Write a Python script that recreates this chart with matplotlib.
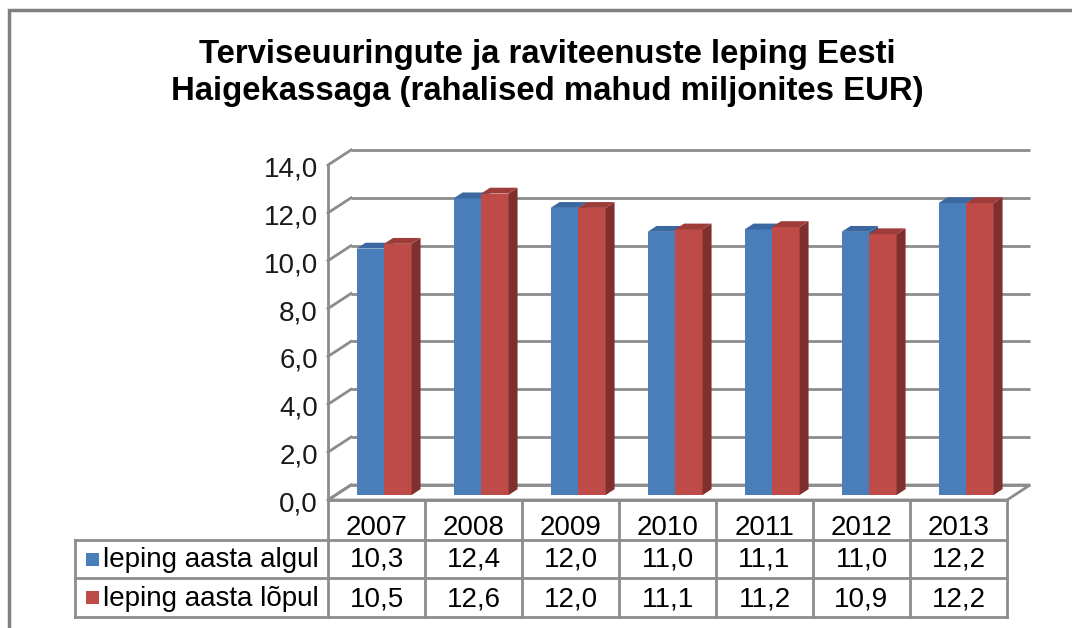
import matplotlib
matplotlib.use("Agg")
import matplotlib.pyplot as plt
from matplotlib.patches import Polygon, Rectangle
from matplotlib.transforms import offset_copy

plt.rcParams['font.family'] = ['Liberation Sans', 'DejaVu Sans']

# ---- data ----
years = ["2007", "2008", "2009", "2010", "2011", "2012", "2013"]
series_names = ["leping aasta algul", "leping aasta lõpul"]
algul = [10.3, 12.4, 12.0, 11.0, 11.1, 11.0, 12.2]
lopul = [10.5, 12.6, 12.0, 11.1, 11.2, 10.9, 12.2]
yticks = [0, 2, 4, 6, 8, 10, 12, 14]
title_lines = ["Terviseuuringute ja raviteenuste leping Eesti",
               "Haigekassaga (rahalised mahud miljonites EUR)"]

# ---- style ----
W, H = 1072, 628
fig = plt.figure(figsize=(W / 100, H / 100), dpi=100)
fig.patch.set_facecolor("white")

front_colors = ["#4a7ebb", "#be4b48"]
top_colors = ["#3b68a0", "#9d3c39"]
side_colors = ["#345c8e", "#7f2f2d"]
grid_col = "#8c8c8c"

# main axes: front plane x=-0.5 -> 328px, 6.5 -> 1007px ; y=0 -> 500px, 14 -> 165px
x0p, x1p, y0p, y1p = 328, 1007, 500, 165
ax = fig.add_axes([x0p / W, 1 - y0p / H, (x1p - x0p) / W, (y0p - y1p) / H])
ax.set_xlim(-0.5, len(years) - 0.5)
ax.set_ylim(0, 14)
ax.axis("off")

ux = (x1p - x0p) / len(years)     # pixels per category
uy = (y0p - y1p) / 14.0           # pixels per value unit
DX = 23 / ux                      # depth offset in data units
DY = 15 / uy

# floor
floor = Polygon([(-0.5, 0), (len(years) - 0.5, 0), (len(years) - 0.5 + DX, DY), (-0.5 + DX, DY)],
                closed=True, facecolor="white", edgecolor=grid_col, lw=2, clip_on=False, zorder=1)
ax.add_patch(floor)

# back wall gridlines + left slanted lines + tick labels
tick_tr = offset_copy(ax.transData, fig=fig, x=-10, y=-11.5, units="dots")
for v in yticks:
    ax.plot([-0.5 + DX, len(years) - 0.5 + DX], [v + DY, v + DY], color=grid_col, lw=2,
            clip_on=False, zorder=1, solid_capstyle="butt")
    ax.plot([-0.5, -0.5 + DX], [v, v + DY], color=grid_col, lw=2, clip_on=False, zorder=1)
    ax.text(-0.5, v, f"{v:.1f}".replace(".", ","), ha="right", va="baseline",
            fontsize=20, color="#1a1a1a", transform=tick_tr)
ax.plot([-0.5, -0.5], [0, 14], color=grid_col, lw=2, clip_on=False, zorder=1)

# bars
bw = 27.5 / ux
f0, f1 = 0.33, 0.72   # depth fraction of bar front / back
for s, vals in enumerate([algul, lopul]):
    for i, v in enumerate(vals):
        xl = i + (s - 1) * bw + f0 * DX
        yb = f0 * DY
        ddx = (f1 - f0) * DX
        ddy = (f1 - f0) * DY
        z = 3 + i * 0.1 + s * 0.05
        ax.add_patch(Rectangle((xl, yb), bw, v, facecolor=front_colors[s], edgecolor="none",
                               zorder=z, clip_on=False))
        ax.add_patch(Polygon([(xl + bw, yb), (xl + bw + ddx, yb + ddy), (xl + bw + ddx, yb + v + ddy),
                              (xl + bw, yb + v)], closed=True, facecolor=side_colors[s],
                             edgecolor="none", zorder=z, clip_on=False))
        ax.add_patch(Polygon([(xl, yb + v), (xl + bw, yb + v), (xl + bw + ddx, yb + v + ddy),
                              (xl + ddx, yb + v + ddy)], closed=True, facecolor=top_colors[s],
                             edgecolor="none", zorder=z, clip_on=False))

# ---- overlay axes in pixel coordinates for table / frame / title ----
ov = fig.add_axes([0, 0, 1, 1], zorder=10)
ov.set_xlim(0, W)
ov.set_ylim(H, 0)
ov.axis("off")
ov.patch.set_alpha(0)

# outer frame (left + top)
ov.plot([9, 9, W], [H, 10, 10], color="#808080", lw=2.5, solid_joinstyle="miter")

# title
for line, base in zip(title_lines, [63, 100]):
    ov.text(547, base, line, ha="center", va="baseline", fontsize=23.7, fontweight="bold",
            color="black")

# table
col_edges = [x0p + k * ux for k in range(len(years) + 1)]
row_edges = [500, 540, 578, 617]
row_base = [535, 567, 606]
leg_left = 75
tc = "#8c8c8c"
for xe in col_edges:
    ov.plot([xe, xe], [row_edges[0], row_edges[-1]], color=tc, lw=2)
ov.plot([leg_left, leg_left], [row_edges[1], row_edges[-1]], color=tc, lw=2)
ov.plot([x0p, x1p], [row_edges[0], row_edges[0]], color=tc, lw=2)
for ye in row_edges[1:]:
    ov.plot([leg_left, x1p], [ye, ye], color=tc, lw=2)

for k, yr in enumerate(years):
    cx = (col_edges[k] + col_edges[k + 1]) / 2
    ov.text(cx, row_base[0], yr, ha="center", va="baseline", fontsize=20)
    for r, vals in enumerate([algul, lopul]):
        ov.text(cx, row_base[r + 1], f"{vals[k]:.1f}".replace(".", ","),
                ha="center", va="baseline", fontsize=20)

for r, name in enumerate(series_names):
    cy = (row_edges[r + 1] + row_edges[r + 2]) / 2
    ov.add_patch(Rectangle((86, cy - 6.5), 13, 13, facecolor=front_colors[r], edgecolor="none"))
    ov.text(103, row_base[r + 1], name, ha="left", va="baseline", fontsize=20)

fig.savefig("out.png", dpi=100, facecolor="white")
